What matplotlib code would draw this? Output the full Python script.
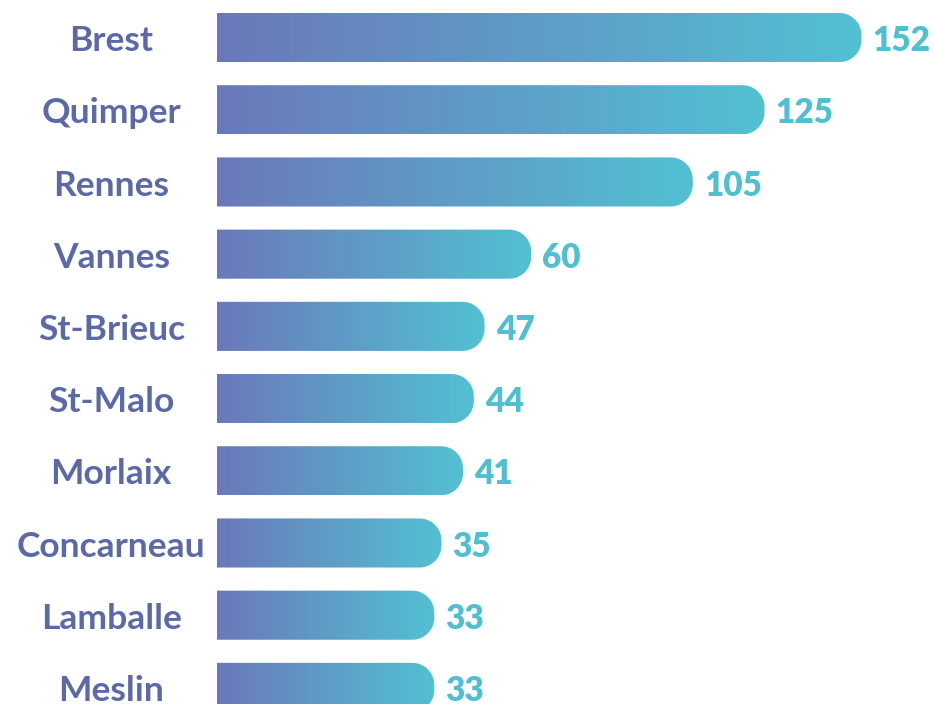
import numpy as np
import matplotlib
matplotlib.use("Agg")
import matplotlib.pyplot as plt
from matplotlib.path import Path
from matplotlib.patches import PathPatch
from matplotlib.colors import LinearSegmentedColormap

cities = ["Brest", "Quimper", "Rennes", "Vannes", "St-Brieuc", "St-Malo",
          "Morlaix", "Concarneau", "Lamballe", "Meslin"]
counts = [152, 125, 105, 60, 47, 44, 41, 35, 33, 33]

LEFT_COLOR = "#6b78ba"
RIGHT_COLOR = "#52c1d2"
LABEL_COLOR = "#5b69a8"
VALUE_COLOR = "#50bfd0"

W, H = 934, 704
X_MIN, X_MAX = -88.0, 172.2
Y_TOP, Y_BOTTOM = -0.52, 9.23
BAR_START = -27.6
LABEL_X = -57.0
BAR_HEIGHT = 0.68
RADIUS_PX = 22


def rounded_bar_path(x0, x1, yc, h, rx, ry):
    # rectangle with rounded right end, radii given in data units
    y0, y1 = yc - h / 2, yc + h / 2
    verts = [(x0, y0), (x1 - rx, y0)]
    t = np.linspace(-np.pi / 2, 0, 12)
    verts += [(x1 - rx + rx * np.cos(a), y0 + ry + ry * np.sin(a)) for a in t]
    t = np.linspace(0, np.pi / 2, 12)
    verts += [(x1 - rx + rx * np.cos(a), y1 - ry + ry * np.sin(a)) for a in t]
    verts += [(x0, y1), (x0, y0)]
    codes = [Path.MOVETO] + [Path.LINETO] * (len(verts) - 2) + [Path.CLOSEPOLY]
    return Path(verts, codes)


def main():
    fig = plt.figure(figsize=(W / 100, H / 100), dpi=100)
    ax = fig.add_axes([0, 0, 1, 1])
    ax.set_xlim(X_MIN, X_MAX)
    ax.set_ylim(Y_BOTTOM, Y_TOP)
    ax.axis("off")

    cmap = LinearSegmentedColormap.from_list("bar", [LEFT_COLOR, RIGHT_COLOR])
    grad = np.linspace(0, 1, 256).reshape(1, -1)

    px_per_x = W / (X_MAX - X_MIN)
    px_per_y = H / (Y_BOTTOM - Y_TOP)
    rx = RADIUS_PX / px_per_x
    ry = RADIUS_PX / px_per_y

    for i, (city, val) in enumerate(zip(cities, counts)):
        path = rounded_bar_path(BAR_START, val, i, BAR_HEIGHT, rx, ry)
        patch = PathPatch(path, facecolor="none", edgecolor="none")
        ax.add_patch(patch)
        im = ax.imshow(grad, cmap=cmap, aspect="auto",
                       extent=[BAR_START, val, i + BAR_HEIGHT / 2, i - BAR_HEIGHT / 2],
                       interpolation="bicubic", zorder=2)
        im.set_clip_path(patch)

        ax.text(LABEL_X, i + 0.05, city, ha="center", va="center",
                fontsize=25.5, fontweight="bold", family="Lato",
                color=LABEL_COLOR)
        ax.annotate(str(val), xy=(val, i + 0.05), xytext=(8, 0),
                    textcoords="offset points", ha="left", va="center",
                    fontsize=24, fontweight="heavy", family="Lato",
                    color=VALUE_COLOR)

    ax.set_xlim(X_MIN, X_MAX)
    ax.set_ylim(Y_BOTTOM, Y_TOP)
    fig.savefig("out.png", dpi=100)
    plt.close(fig)


if __name__ == "__main__":
    main()
